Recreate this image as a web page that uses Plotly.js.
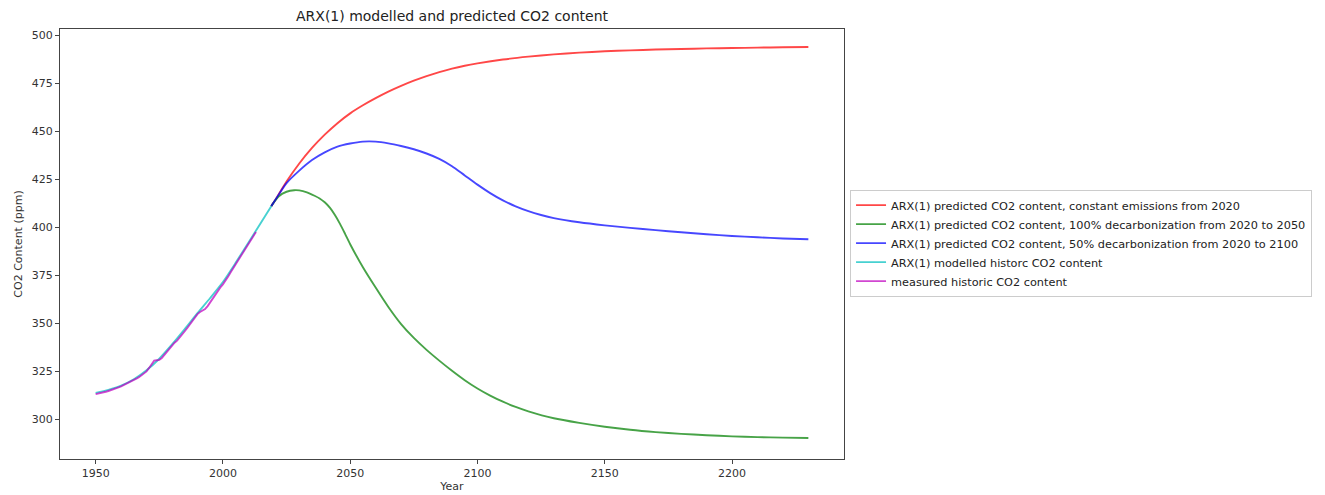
<!DOCTYPE html>
<html>
<head>
<meta charset="utf-8">
<script src="https://cdn.plot.ly/plotly-3.0.1.min.js"></script>
<style>
html,body{margin:0;padding:0;background:#fff;}
#chart{width:1325px;height:495px;}
</style>
</head>
<body>
<div id="chart"></div>
<script>
// ---- data ----
const redYears = [2019, 2020, 2025, 2030, 2035, 2040, 2045, 2050, 2055, 2060, 2065, 2070, 2075, 2080, 2085, 2090, 2095, 2100, 2110, 2120, 2130, 2140, 2150, 2160, 2170, 2180, 2190, 2200, 2210, 2220, 2230];
const constantEmissions = [411, 413, 423.8, 433.2, 441.3, 448.2, 454.2, 459.3, 463.5, 467.2, 470.6, 473.6, 476.3, 478.7, 480.8, 482.6, 484.1, 485.3, 487.3, 488.8, 490.0, 490.9, 491.6, 492.1, 492.5, 492.8, 493.1, 493.3, 493.5, 493.7, 493.8];

const greenYears = [2019, 2020, 2022, 2025, 2028, 2030, 2033, 2036, 2038, 2040, 2042, 2044, 2046, 2048, 2050, 2055, 2060, 2065, 2070, 2075, 2080, 2085, 2090, 2095, 2100, 2105, 2110, 2115, 2120, 2130, 2140, 2150, 2160, 2170, 2180, 2190, 2200, 2210, 2220, 2230];
const decarb100to2050 = [411, 413, 416.2, 418.5, 419.3, 419.2, 418.2, 416.4, 415.0, 413.0, 410.2, 406.4, 401.8, 396.6, 391.2, 379.2, 368.6, 358.5, 349.6, 342.4, 336.2, 330.6, 325.3, 320.4, 316.1, 312.4, 309.2, 306.5, 304.2, 300.6, 298.2, 296.2, 294.6, 293.4, 292.5, 291.8, 291.2, 290.8, 290.5, 290.3];

const blueYears = [2019, 2020, 2025, 2030, 2035, 2040, 2045, 2050, 2055, 2060, 2065, 2070, 2075, 2080, 2085, 2090, 2095, 2100, 2105, 2110, 2115, 2120, 2125, 2130, 2140, 2150, 2160, 2170, 2180, 2190, 2200, 2210, 2220, 2230];
const decarb50to2100 = [411, 413, 423, 429.5, 435, 439, 442, 443.6, 444.6, 444.6, 443.7, 442.3, 440.6, 438.4, 435.6, 431.8, 427.0, 422.2, 417.8, 414.0, 410.9, 408.4, 406.4, 404.8, 402.6, 401.0, 399.7, 398.5, 397.4, 396.4, 395.5, 394.8, 394.2, 393.8];

const modelYears = [1950, 1955, 1960, 1965, 1970, 1975, 1980, 1985, 1990, 1995, 2000, 2005, 2010, 2015, 2019];
const modelledHistoric = [313.8, 315.4, 317.6, 320.9, 325.6, 331.6, 339.0, 347.0, 355.3, 363.2, 371.5, 381.5, 392.0, 402.5, 411];

const measYears = [1950,1951,1952,1953,1954,1955,1956,1957,1958,1959,1960,1961,1962,1963,1964,1965,1966,1967,1968,1969,1970,1971,1972,1973,1974,1975,1976,1977,1978,1979,1980,1981,1982,1983,1984,1985,1986,1987,1988,1989,1990,1991,1992,1993,1994,1995,1996,1997,1998,1999,2000,2001,2002,2003,2004,2005,2006,2007,2008,2009,2010,2011,2012,2013];
const measuredHistoric = [313.2,313.4,313.7,314.0,314.4,314.8,315.2,315.7,316.2,316.7,317.2,317.8,318.4,319.1,319.8,320.4,321.2,322.0,322.9,323.9,325.0,326.8,328.8,330.6,330.8,331.0,332.0,333.7,335.4,337.0,338.6,339.9,341.0,342.5,344.2,345.9,347.6,349.4,351.6,353.4,354.8,355.9,356.6,357.4,359.0,361.0,362.9,364.8,366.9,368.7,370.3,372.1,374.2,376.5,378.6,380.8,382.9,385.0,387.1,389.1,391.2,393.3,395.4,397.6];

const seriesNames = [
  "ARX(1) predicted CO2 content, constant emissions from 2020",
  "ARX(1) predicted CO2 content, 100% decarbonization from 2020 to 2050",
  "ARX(1) predicted CO2 content, 50% decarbonization from 2020 to 2100",
  "ARX(1) modelled historc CO2 content",
  "measured historic CO2 content"
];
const xTicks = [1950, 2000, 2050, 2100, 2150, 2200];
const yTicks = [300, 325, 350, 375, 400, 425, 450, 475, 500];

// ---- chart ----
const FONT = "DejaVu Sans, sans-serif";
const colors = ["rgba(255,0,0,0.72)", "rgba(0,128,0,0.72)", "rgba(0,0,255,0.72)", "rgba(0,191,191,0.72)", "rgba(191,0,191,0.72)"];
const lw = 1.9;
const sp = {shape: "spline", smoothing: 0.7};

const traces = [
  {x: redYears, y: constantEmissions, name: seriesNames[0], mode: "lines", line: Object.assign({color: colors[0], width: lw}, sp)},
  {x: greenYears, y: decarb100to2050, name: seriesNames[1], mode: "lines", line: Object.assign({color: colors[1], width: lw}, sp)},
  {x: blueYears, y: decarb50to2100, name: seriesNames[2], mode: "lines", line: Object.assign({color: colors[2], width: lw}, sp)},
  {x: modelYears, y: modelledHistoric, name: seriesNames[3], mode: "lines", line: Object.assign({color: colors[3], width: lw}, sp)},
  {x: measYears, y: measuredHistoric, name: seriesNames[4], mode: "lines", line: {color: colors[4], width: lw}}
];

const axisCommon = {
  showgrid: false, zeroline: false,
  showline: true, mirror: true, linecolor: "#444", linewidth: 1,
  ticks: "outside", ticklen: 4, tickwidth: 1, tickcolor: "#444",
  tickfont: {family: FONT, size: 11, color: "#333"},
  automargin: false
};

const layout = {
  width: 1325, height: 495,
  paper_bgcolor: "#fff", plot_bgcolor: "#fff",
  margin: {l: 60, r: 481, t: 29, b: 36},
  font: {family: FONT, color: "#333"},
  title: {text: "ARX(1) modelled and predicted CO2 content", font: {family: FONT, size: 14, color: "#222"},
          x: 0.5, xref: "paper", xanchor: "center", y: 1 - 16/495, yref: "container", yanchor: "middle"},
  xaxis: Object.assign({}, axisCommon, {
    range: [1936, 2244], tickmode: "array", tickvals: xTicks, ticktext: xTicks.map(String),
    title: {text: "Year", font: {family: FONT, size: 11, color: "#333"}, standoff: 2}
  }),
  yaxis: Object.assign({}, axisCommon, {
    range: [279.4, 503.2], tickmode: "array", tickvals: yTicks, ticktext: yTicks.map(String),
    title: {text: "CO2 Content (ppm)", font: {family: FONT, size: 11, color: "#333"}, standoff: 6}
  }),
  showlegend: true,
  legend: {
    x: 1.0077, xanchor: "left", xref: "paper",
    y: 0.502, yanchor: "middle", yref: "paper",
    bgcolor: "#fff", bordercolor: "#ccc", borderwidth: 1,
    font: {family: FONT, size: 11.3, color: "#222"},
    tracegroupgap: 0, itemwidth: 30
  }
};

Plotly.newPlot("chart", traces, layout, {displayModeBar: false, staticPlot: true});
</script>
</body>
</html>
